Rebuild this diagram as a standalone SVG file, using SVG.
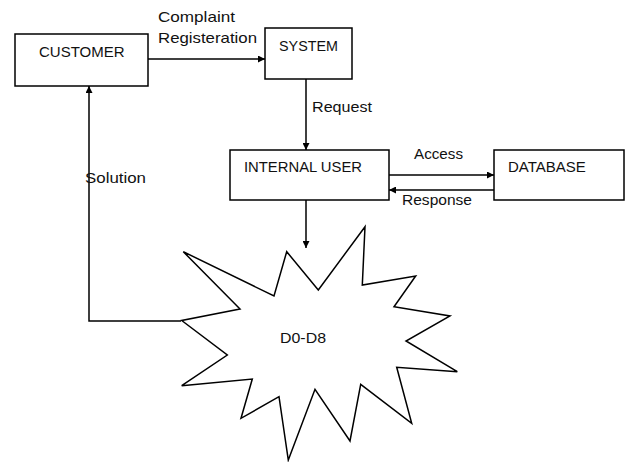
<svg xmlns="http://www.w3.org/2000/svg" width="626" height="462" viewBox="0 0 626 462">
<style>
.box{fill:#fff;stroke:#000;stroke-width:1.5}
.ln{fill:none;stroke:#000;stroke-width:1.5}
text{font-family:"Liberation Sans",Arial,sans-serif;font-size:15px;fill:#111}
</style>
<defs>
<marker id="ah" viewBox="0 0 10 10" refX="10" refY="5" markerWidth="7" markerHeight="7" markerUnits="userSpaceOnUse" orient="auto">
<path d="M0,0 L10,5 L0,10 z" fill="#000"/>
</marker>
</defs>
<rect width="626" height="462" fill="#fff"/>
<g id="connectors">
<line class="ln" x1="148" y1="59" x2="265" y2="59" marker-end="url(#ah)"/>
<line class="ln" x1="306" y1="79" x2="306" y2="150" marker-end="url(#ah)"/>
<line class="ln" x1="389" y1="175" x2="494" y2="175" marker-end="url(#ah)"/>
<line class="ln" x1="494" y1="190" x2="389" y2="190" marker-end="url(#ah)"/>
<line class="ln" x1="306" y1="200" x2="306" y2="248" marker-end="url(#ah)"/>
<polyline class="ln" points="181,321 89,321 89,86" marker-end="url(#ah)"/>
<text x="158" y="22" textLength="77" lengthAdjust="spacingAndGlyphs">Complaint</text>
<text x="158" y="43" textLength="99" lengthAdjust="spacingAndGlyphs">Registeration</text>
<text x="312" y="112" textLength="60" lengthAdjust="spacingAndGlyphs">Request</text>
<text x="414" y="159" textLength="49" lengthAdjust="spacingAndGlyphs">Access</text>
<text x="402" y="205" textLength="70" lengthAdjust="spacingAndGlyphs">Response</text>
<text x="85" y="183" textLength="61" lengthAdjust="spacingAndGlyphs">Solution</text>
</g>
<g id="customer">
<rect class="box" x="15" y="34" width="133" height="52"/>
<text x="39" y="57">CUSTOMER</text>
</g>
<g id="system">
<rect class="box" x="265" y="28" width="87" height="51"/>
<text x="279" y="51" textLength="59" lengthAdjust="spacingAndGlyphs">SYSTEM</text>
</g>
<g id="internal-user">
<rect class="box" x="230" y="150" width="159" height="50"/>
<text x="244" y="172" textLength="118" lengthAdjust="spacingAndGlyphs">INTERNAL USER</text>
</g>
<g id="database">
<rect class="box" x="494" y="150" width="130" height="50"/>
<text x="508" y="172">DATABASE</text>
</g>
<g id="d0-d8">
<polygon class="box" points="183.3,251.7 274,296 286.7,251.7 318.3,290 365,226.7 362.3,285 415.7,276 394,306.7 450,316 406,341 457.3,371.7 396.7,367.3 411.7,423.3 360.7,384.3 350,441 315,389.3 288.3,460 279,396.7 241,418.3 252.3,379 181.7,385.7 227.3,355 181.7,320.5 240,309"/>
<text x="280" y="343" textLength="46" lengthAdjust="spacingAndGlyphs">D0-D8</text>
</g>
</svg>
